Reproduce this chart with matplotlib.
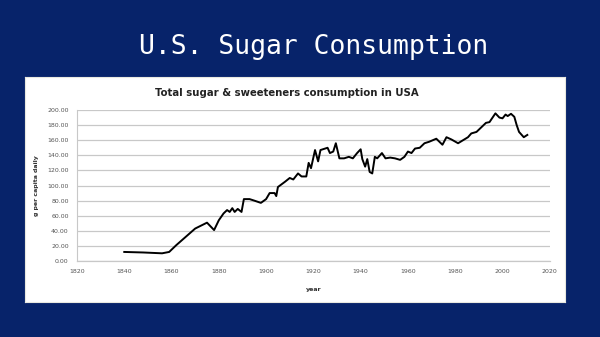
import matplotlib
matplotlib.use('Agg')
import matplotlib.pyplot as plt

# data (year, grams per capita daily)
years = [1840, 1848, 1856, 1859, 1862, 1866, 1870, 1875, 1878, 1880, 1882, 1883.5,
         1884.6, 1885.7, 1886.7, 1888, 1889.6, 1890.6, 1893, 1895, 1897.8, 1900,
         1901.5, 1903.6, 1904.3, 1905, 1908, 1910, 1911.5, 1913.5, 1915, 1917,
         1918, 1919, 1920.7, 1922, 1923, 1926, 1927, 1928.4, 1929.5, 1931, 1933,
         1935, 1936.7, 1938.5, 1940, 1940.7, 1941.9, 1942.8, 1943.8, 1944.9, 1946,
         1947, 1949, 1950.5, 1952.5, 1954.5, 1956.7, 1958.5, 1960, 1961.5, 1963,
         1965, 1967, 1969, 1972, 1974.6, 1976.3, 1978.4, 1981.2, 1983.3, 1985.4,
         1986.8, 1989, 1991, 1993, 1994.5, 1997, 1998.7, 2000, 2001.3, 2002.2,
         2003.6, 2005, 2006, 2007, 2009, 2010.5]
consumption = [12, 11.3, 10.2, 12, 21, 32, 43, 50.8, 41, 54, 63, 67.5,
               65, 70, 65, 69, 65, 82, 82, 80, 77, 82,
               90, 90, 86, 98, 105, 110, 108, 116, 112, 112,
               130, 123, 147, 132, 147, 150, 143, 145, 156, 136, 136,
               138, 136, 143, 148, 135, 125, 135, 118, 116, 138,
               136, 143, 136, 137, 136, 134, 138, 145, 143, 149,
               150, 156, 158, 162, 154, 164, 161, 156, 160, 164,
               169, 171, 177, 183, 184, 195.6, 190, 189, 194, 192,
               195, 191, 180, 171, 164, 167]

y_ticks = list(range(0, 201, 20))
x_ticks = list(range(1820, 2021, 20))

navy = '#07236a'
fig = plt.figure(figsize=(6, 3.37), dpi=100, facecolor=navy)

# slide title
fig.text(0.523, 0.840, 'U.S. Sugar Consumption', color='white',
         fontsize=19, family='DejaVu Sans Mono', ha='center', va='baseline')

# white chart panel
panel = fig.add_axes([0.0417, 0.104, 0.9, 0.668])
panel.set_facecolor('white')
panel.set_xticks([])
panel.set_yticks([])
for s in panel.spines.values():
    s.set_color('#e8e8e0')

fig.text(0.478, 0.724, 'Total sugar & sweeteners consumption in USA',
         fontsize=7.3, fontweight='bold', color='#222222', ha='center', va='center')

ax = fig.add_axes([0.1283, 0.2255, 0.788, 0.448])
ax.set_facecolor('white')
ax.plot(years, consumption, color='black', linewidth=1.4, zorder=3)

ax.set_xlim(1820, 2020)
ax.set_ylim(0, 200)
ax.set_xticks(x_ticks)
ax.set_yticks(y_ticks)
ax.set_yticklabels([f'{v:.2f}' for v in y_ticks])
ax.tick_params(labelsize=4.5, colors='#555555', length=0, pad=6)
ax.grid(axis='y', color='#c8c8c8', linewidth=0.9)
ax.axhline(0, color='#c8c8c8', linewidth=0.9, clip_on=False, zorder=1)
ax.set_axisbelow(True)
for side in ['top', 'right', 'bottom']:
    ax.spines[side].set_visible(False)
ax.spines['left'].set_color('#c8c8c8')

ax.set_xlabel('year', fontsize=4.5, fontweight='bold', color='#333333', labelpad=9)
ax.set_ylabel('g per capita daily', fontsize=4.5, fontweight='bold', color='#333333', labelpad=6)

plt.savefig('out.png', dpi=100, facecolor=navy)
